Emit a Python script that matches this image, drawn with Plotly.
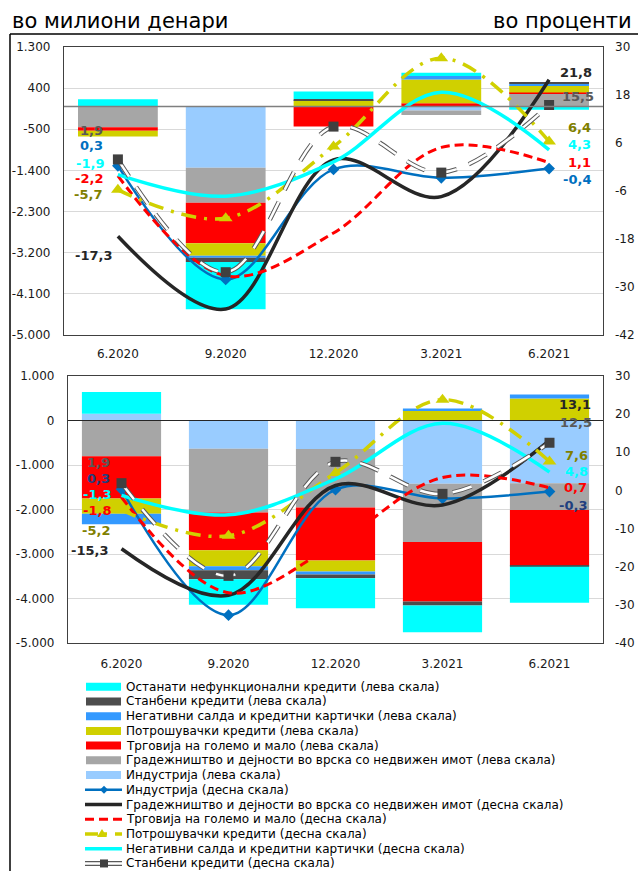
import plotly.graph_objects as go

W, H = 638, 871

periods = ["6.2020", "9.2020", "12.2020", "3.2021", "6.2021"]

# ---- upper panel: change in millions of denars (left scale) ----
up_industry = [0, -1340, 0, -87, 0]
up_construction = [-455, -766, 0, -102, 277]
up_trade = [-78, -889, -437, 70, 29]
up_consumer = [-124, -271, 120, 518, 146]
up_overdrafts = [0, -44, 5, 80, 36]
up_housing = [0, -94, 35, 0, 44]
up_other = [155, -1035, 166, 66, -73]

# ---- upper panel: change in percent (right scale) ----
up_industry_pct = [0.3, -28.1, -0.6, -2.7, -0.4]
up_construction_pct = [-17.3, -35.5, 1.8, -7.4, 21.8]
up_trade_pct = [-2.2, -27.2, -16.5, 4.9, 1.1]
up_consumer_pct = [-5.7, -12.8, 5.1, 27.2, 6.4]
up_overdrafts_pct = [-1.9, -7.3, 1.3, 18.7, 4.3]
up_housing_pct = [1.9, -26.3, 10.1, -1.4, 15.5]

# ---- lower panel: change in millions of denars (left scale) ----
lo_industry = [150, -635, -640, -1420, -1410]
lo_construction = [-803, -1433, -1313, -1313, -600]
lo_trade = [-952, -848, -1193, -1335, -1253]
lo_consumer = [-338, -360, -248, 233, 495]
lo_overdrafts = [-240, -90, -68, 38, 90]
lo_housing = [0, -203, -83, -90, -22]
lo_other = [490, -570, -675, -600, -810]

# ---- lower panel: change in percent (right scale) ----
lo_industry_pct = [0.3, -32.7, 0.2, -2.1, -0.3]
lo_construction_pct = [-15.3, -27.5, 1.3, -3.8, 13.1]
lo_trade_pct = [-1.8, -26.8, -14.0, 3.4, 0.7]
lo_consumer_pct = [-5.2, -11.9, 4.6, 23.8, 7.6]
lo_overdrafts_pct = [-1.3, -6.4, 3.0, 17.6, 4.8]
lo_housing_pct = [1.9, -22.4, 7.5, -0.9, 12.5]

# axis ticks
up_left_ticks = [-5000, -4100, -3200, -2300, -1400, -500, 400, 1300]
up_right_ticks = [-42, -30, -18, -6, 6, 18, 30]
lo_left_ticks = [-5000, -4000, -3000, -2000, -1000, 0, 1000]
lo_right_ticks = [-40, -30, -20, -10, 0, 10, 20, 30]

# series names
bar_names = [
    "Индустрија (лева скала)",
    "Градежништво и дејности во врска со недвижен имот (лева скала)",
    "Трговија на големо и мало (лева скала)",
    "Потрошувачки кредити (лева скала)",
    "Негативни салда и кредитни картички (лева скала)",
    "Станбени кредити (лева скала)",
    "Останати нефункционални кредити (лева скала)",
]
line_names = [
    "Индустрија (десна скала)",
    "Градежништво и дејности во врска со недвижен имот (десна скала)",
    "Трговија на големо и мало (десна скала)",
    "Потрошувачки кредити (десна скала)",
    "Негативни салда и кредитни картички (десна скала)",
    "Станбени кредити (десна скала)",
]

BAR_COLORS = ["#99CCFF", "#A6A6A6", "#FF0000", "#D0D000", "#3399FF", "#4D4D4D", "#00FFFF"]
FONT = "DejaVu Sans"
TXT = "#1a1a1a"


def px_x(x):
    return x / W


def px_y(y):
    return 1 - y / H


def thousands(v):
    s = f"{abs(v):,}".replace(",", ".")
    return ("-" if v < 0 else "") + s


def pct_label(v):
    return f"{v:.1f}".replace(".", ",")


fig = go.Figure()

panels = [
    dict(xa="x", ya="y", ya2="y2",
         bars=[up_industry, up_construction, up_trade, up_consumer,
               up_overdrafts, up_housing, up_other],
         lines=[up_industry_pct, up_construction_pct, up_trade_pct,
                up_consumer_pct, up_overdrafts_pct, up_housing_pct],
         ind_label="#0070C0"),
    dict(xa="x2", ya="y3", ya2="y4",
         bars=[lo_industry, lo_construction, lo_trade, lo_consumer,
               lo_overdrafts, lo_housing, lo_other],
         lines=[lo_industry_pct, lo_construction_pct, lo_trade_pct,
                lo_consumer_pct, lo_overdrafts_pct, lo_housing_pct],
         ind_label="#1F3F7F"),
]

for p in panels:
    # stacked columns
    for name, vals, col in zip(bar_names, p["bars"], BAR_COLORS):
        fig.add_trace(go.Bar(x=periods, y=vals, name=name, marker_color=col,
                             marker_line_width=0, xaxis=p["xa"], yaxis=p["ya"],
                             showlegend=False))
    ind, con, trd, cns, ovd, hou = p["lines"]
    common = dict(x=periods, xaxis=p["xa"], yaxis=p["ya2"], showlegend=False)
    spl = dict(shape="spline", smoothing=1.0)
    fig.add_trace(go.Scatter(y=ind, name=line_names[0], mode="lines+markers",
                             line=dict(color="#0070C0", width=2.5, **spl),
                             marker=dict(symbol="diamond", size=9, color="#0070C0"),
                             **common))
    fig.add_trace(go.Scatter(y=con, name=line_names[1], mode="lines",
                             line=dict(color="#262626", width=3.5, **spl), **common))
    fig.add_trace(go.Scatter(y=trd, name=line_names[2], mode="lines",
                             line=dict(color="#FF0000", width=3, dash="9px,5px", **spl),
                             **common))
    fig.add_trace(go.Scatter(y=cns, name=line_names[3], mode="lines+markers",
                             line=dict(color="#D0D000", width=3.5,
                                       dash="15px,8px,3px,8px", **spl),
                             marker=dict(symbol="triangle-up", size=12, color="#D0D000"),
                             **common))
    fig.add_trace(go.Scatter(y=ovd, name=line_names[4], mode="lines",
                             line=dict(color="#00FFFF", width=3.5, **spl), **common))
    # housing loans: outlined dashes (dark edge + white core)
    fig.add_trace(go.Scatter(y=hou, name=line_names[5], mode="lines",
                             line=dict(color="#595959", width=4.5, dash="20px,13px", **spl),
                             **common))
    fig.add_trace(go.Scatter(y=hou, name=line_names[5], mode="lines+markers",
                             line=dict(color="#FFFFFF", width=2.5, dash="20px,13px", **spl),
                             marker=dict(symbol="square", size=10, color="#404040"),
                             **common))

# end-point value labels (pixel offsets from each point)
label_styles = {
    "x": dict(
        first=[("hou", "#595959", -26, 29), ("ind", None, -26, 20), ("ovd", "#00FFFF", -28, 11),
               ("trd", "#FF0000", -29, -3), ("cns", "#808000", -30, -5), ("con", "#262626", -24, -19)],
        last=[("con", "#262626", 27, 7), ("hou", "#595959", 29, 8), ("cns", "#808000", 30, 14),
              ("ovd", "#00FFFF", 30, 5), ("trd", "#FF0000", 30, 0), ("ind", None, 28, -11)],
    ),
    "x2": dict(
        first=[("hou", "#595959", -23, 21), ("ind", None, -23, 11), ("ovd", "#00FFFF", -25, 1),
               ("trd", "#FF0000", -25, -13), ("cns", "#808000", -26, -20), ("con", "#262626", -32, -2)],
        last=[("con", "#262626", 25, 36), ("hou", "#595959", 26, 20), ("cns", "#808000", 27, 6),
              ("ovd", "#00FFFF", 27, 1), ("trd", "#FF0000", 26, 0), ("ind", None, 23, -14)],
    ),
}
keys = ["ind", "con", "trd", "cns", "ovd", "hou"]
annotations = []
for p in panels:
    series = dict(zip(keys, p["lines"]))
    st = label_styles[p["xa"]]
    for idx, group in ((0, st["first"]), (len(periods) - 1, st["last"])):
        for key, col, dx, dy in group:
            v = series[key][idx]
            # category axis: position by category index
            annotations.append(dict(
                x=idx, y=v, xref=p["xa"], yref=p["ya2"],
                text=pct_label(v), showarrow=False, xshift=dx, yshift=dy,
                font=dict(family=FONT, size=13, weight="bold",
                          color=col if col else p["ind_label"])))

# units
annotations.append(dict(x=px_x(10), y=px_y(21), xref="paper", yref="paper",
                        xanchor="left", yanchor="middle", showarrow=False,
                        text="во милиони денари", font=dict(family=FONT, size=21, color="#000")))
annotations.append(dict(x=px_x(634), y=px_y(21), xref="paper", yref="paper",
                        xanchor="right", yanchor="middle", showarrow=False,
                        text="во проценти", font=dict(family=FONT, size=21, color="#000")))

# legend drawn as keys + text
shapes = []
row0, row_h = 686.7, 14.73
legend_rows = [(n, "bar", c) for n, c in zip(bar_names[::-1], BAR_COLORS[::-1])]
legend_rows += [(n, k, None) for n, k in zip(line_names, keys)]
for i, (name, kind, col) in enumerate(legend_rows):
    yc = row0 + i * row_h
    x0, x1, xm = 86, 122, 104
    if kind == "bar":
        shapes.append(dict(type="rect", xref="paper", yref="paper",
                           x0=px_x(x0), x1=px_x(x1 - 1), y0=px_y(yc - 4), y1=px_y(yc + 4),
                           fillcolor=col, line=dict(width=0)))
    else:
        def hline(color, width, dash="solid"):
            shapes.append(dict(type="line", xref="paper", yref="paper",
                               x0=px_x(x0 - 1), x1=px_x(x1), y0=px_y(yc), y1=px_y(yc),
                               line=dict(color=color, width=width, dash=dash)))
        if kind == "ind":
            hline("#0070C0", 2.5)
            d = 4
            shapes.append(dict(type="path", xref="paper", yref="paper",
                               path=f"M{px_x(xm)},{px_y(yc - d)} L{px_x(xm + d)},{px_y(yc)} "
                                    f"L{px_x(xm)},{px_y(yc + d)} L{px_x(xm - d)},{px_y(yc)} Z",
                               fillcolor="#0070C0", line=dict(width=0)))
        elif kind == "con":
            hline("#262626", 3.5)
        elif kind == "trd":
            hline("#FF0000", 3, "9px,5px")
        elif kind == "cns":
            hline("#D0D000", 3.5, "13px,6px,3px,8px")
            shapes.append(dict(type="path", xref="paper", yref="paper",
                               path=f"M{px_x(xm - 2)},{px_y(yc - 5)} L{px_x(xm + 3)},{px_y(yc + 3)} "
                                    f"L{px_x(xm - 7)},{px_y(yc + 3)} Z",
                               fillcolor="#D0D000", line=dict(width=0)))
        elif kind == "ovd":
            hline("#00FFFF", 3.5)
        elif kind == "hou":
            hline("#595959", 5)
            hline("#FFFFFF", 2.5)
            shapes.append(dict(type="rect", xref="paper", yref="paper",
                               x0=px_x(xm - 4), x1=px_x(xm + 4), y0=px_y(yc - 4), y1=px_y(yc + 4),
                               fillcolor="#404040", line=dict(width=0)))
    annotations.append(dict(x=px_x(124), y=px_y(yc), xref="paper", yref="paper",
                            xanchor="left", yanchor="middle", showarrow=False, text=name,
                            font=dict(family=FONT, size=12, color="#000")))

# outer frame lines
shapes.append(dict(type="line", xref="paper", yref="paper", x0=px_x(10), x1=1,
                   y0=px_y(34), y1=px_y(34), line=dict(color="#000", width=1.5)))
shapes.append(dict(type="line", xref="paper", yref="paper", x0=px_x(10), x1=px_x(10),
                   y0=px_y(34), y1=0, line=dict(color="#000", width=1.5)))
# zero lines drawn over the columns
shapes.append(dict(type="line", xref="x domain", yref="y", x0=0, x1=1, y0=0, y1=0,
                   layer="above", line=dict(color="#7F7F7F", width=1.5)))
shapes.append(dict(type="line", xref="x2 domain", yref="y3", x0=0, x1=1, y0=0, y1=0,
                   layer="above", line=dict(color="#262626", width=1)))

tickfont = dict(family=FONT, size=12, color=TXT)
frame = dict(showline=True, linecolor="#404040", linewidth=1.2, mirror=True)


def left_axis(ticks, domain, anchor):
    return dict(domain=domain, anchor=anchor, range=[ticks[0], ticks[-1]],
                tickvals=ticks, ticktext=[thousands(t) for t in ticks],
                showgrid=True, gridcolor="#D9D9D9", gridwidth=1, zeroline=False,
                ticks="", tickfont=tickfont, ticklabelstandoff=10, automargin=False,
                **frame)


def right_axis(ticks, overlay, anchor):
    return dict(overlaying=overlay, anchor=anchor, side="right",
                range=[ticks[0], ticks[-1]], tickvals=ticks,
                ticktext=[str(t) for t in ticks], showgrid=False, zeroline=False,
                ticks="", tickfont=tickfont, ticklabelstandoff=11, showline=False,
                automargin=False)


def x_axis(domain, anchor, standoff):
    return dict(domain=domain, anchor=anchor, type="category", ticks="",
                tickfont=tickfont, ticklabelstandoff=standoff, showgrid=False,
                automargin=False, **frame)


fig.update_layout(
    width=W, height=H, autosize=False,
    margin=dict(l=0, r=0, t=0, b=0, pad=0),
    paper_bgcolor="white", plot_bgcolor="white",
    barmode="relative", bargap=0.26,
    showlegend=False,
    xaxis=x_axis([px_x(64), px_x(603)], "y", 7),
    yaxis=left_axis(up_left_ticks, [px_y(335), px_y(47)], "x"),
    yaxis2=right_axis(up_right_ticks, "y", "x"),
    xaxis2=x_axis([px_x(68), px_x(603)], "y3", 9),
    yaxis3=left_axis(lo_left_ticks, [px_y(643), px_y(376)], "x2"),
    yaxis4=right_axis(lo_right_ticks, "y3", "x2"),
    annotations=annotations,
    shapes=shapes,
)

fig.write_html("out.html", config={"displayModeBar": False})
